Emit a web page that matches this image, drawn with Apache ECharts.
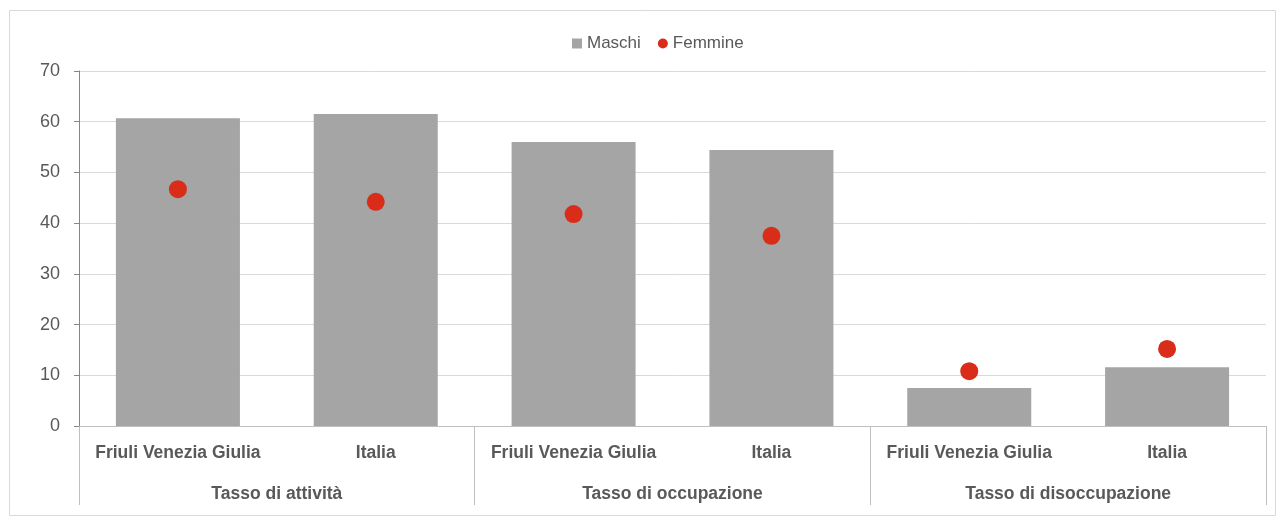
<!DOCTYPE html>
<html>
<head>
<meta charset="utf-8">
<script src="https://cdn.jsdelivr.net/npm/echarts@6/dist/echarts.min.js"></script>
<style>
  body { margin: 0; background: #fff; }
  #chart { width: 1284px; height: 524px; }
</style>
</head>
<body>
<div id="chart"></div>
<script>
// dati
const territori = ["Friuli Venezia Giulia", "Italia", "Friuli Venezia Giulia", "Italia", "Friuli Venezia Giulia", "Italia"];
const indicatori = ["Tasso di attività", "Tasso di occupazione", "Tasso di disoccupazione"];
const maschi = [60.7, 61.5, 56.0, 54.4, 7.5, 11.6];
const femmine = [46.7, 44.2, 41.8, 37.5, 10.8, 15.2];

const font = "'Liberation Sans Narrow', 'Arial Narrow', 'Liberation Sans', Arial, sans-serif";
const grigioTesto = "#595959";

let myChart = echarts.init(document.getElementById("chart"));
myChart.setOption({
  animation: false,
  textStyle: { fontFamily: font },
  graphic: [{
    type: "rect",
    shape: { x: 9.5, y: 10.5, width: 1266, height: 505 },
    style: { fill: "none", stroke: "#d9d9d9", lineWidth: 1 },
    silent: true
  }],
  legend: {
    top: 30,
    left: 567,
    itemWidth: 10,
    itemHeight: 10,
    itemGap: 17,
    textStyle: { fontFamily: font, fontSize: 17, color: grigioTesto },
    data: [
      { name: "Maschi", icon: "rect" },
      { name: "Femmine", icon: "circle" }
    ]
  },
  grid: {
    left: 79,
    right: 18,
    top: 71,
    bottom: 98
  },
  xAxis: [
    {
      type: "category",
      data: territori,
      axisLine: { lineStyle: { color: "#bfbfbf" } },
      axisTick: { show: false },
      axisLabel: {
        interval: 0,
        margin: 18,
        fontFamily: font,
        fontSize: 17.5,
        fontWeight: "bold",
        color: grigioTesto
      }
    },
    {
      type: "category",
      data: indicatori,
      position: "bottom",
      axisLine: { show: false },
      axisTick: {
        show: true,
        interval: 0,
        length: 79,
        lineStyle: { color: "#bfbfbf" }
      },
      axisLabel: {
        interval: 0,
        margin: 59,
        fontFamily: font,
        fontSize: 17.5,
        fontWeight: "bold",
        color: grigioTesto
      }
    }
  ],
  yAxis: {
    type: "value",
    min: 0,
    max: 70,
    interval: 10,
    axisLine: { show: true, lineStyle: { color: "#868686" } },
    axisTick: { show: true, length: 5, lineStyle: { color: "#868686" } },
    axisLabel: { fontFamily: font, fontSize: 18, color: grigioTesto, margin: 19 },
    splitLine: { lineStyle: { color: "#d9d9d9" } }
  },
  series: [
    {
      name: "Maschi",
      type: "bar",
      xAxisIndex: 0,
      data: maschi,
      barWidth: 124,
      itemStyle: { color: "#a5a5a5" }
    },
    {
      name: "Femmine",
      type: "scatter",
      xAxisIndex: 0,
      data: femmine,
      symbol: "circle",
      symbolSize: 18,
      itemStyle: { color: "#d92d19", opacity: 1 }
    }
  ]
});
</script>
</body>
</html>
